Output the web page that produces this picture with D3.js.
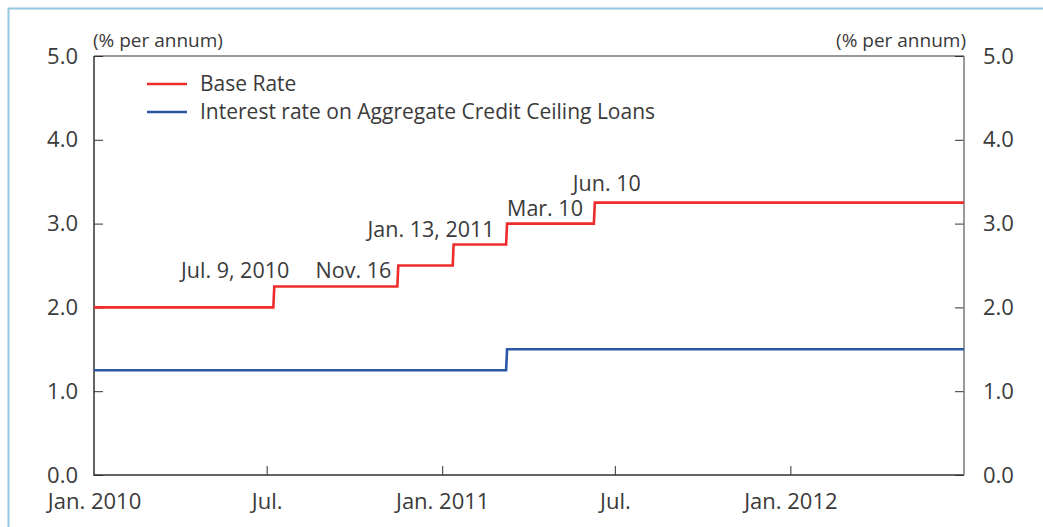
<!DOCTYPE html>
<html>
<head>
<meta charset="utf-8">
<script src="https://cdn.jsdelivr.net/npm/d3@7"></script>
<style>
  body { margin: 0; background: #fff; }
  svg { display: block; font-family: "Open Sans", "Noto Sans", sans-serif; }
  text { fill: #3a3a3a; }
</style>
</head>
<body>
<svg width="1043" height="527"></svg>
<script>
// dados: datas de mudança e taxas (% a.a.)
const startDate = "2010-01-01";
const endDate = "2012-07-01";
const baseRateDates = ["2010-01-01", "2010-07-09", "2010-11-16", "2011-01-13", "2011-03-10", "2011-06-10"];
const baseRateValues = [2.0, 2.25, 2.5, 2.75, 3.0, 3.25];
const creditDates = ["2010-01-01", "2011-03-10"];
const creditValues = [1.25, 1.5];
const annotationLabels = ["Jul. 9, 2010", "Nov. 16", "Jan. 13, 2011", "Mar. 10", "Jun. 10"];
const yTicks = [0, 1, 2, 3, 4, 5];
const xTickDates = ["2010-01-01", "2010-07-01", "2011-01-01", "2011-07-01", "2012-01-01"];
const xTickLabels = ["Jan. 2010", "Jul.", "Jan. 2011", "Jul.", "Jan. 2012"];
const seriesNames = ["Base Rate", "Interest rate on Aggregate Credit Ceiling Loans"];
const seriesColors = ["#ee2c2c", "#2b56a3"];

const parse = d3.timeParse("%Y-%m-%d");
const svg = d3.select("svg");
const PLOT_LEFT = 94, PLOT_RIGHT = 964, PLOT_TOP = 56, PLOT_BOTTOM = 475;

const x = d3.scaleTime().domain([parse(startDate), parse(endDate)]).range([PLOT_LEFT, PLOT_RIGHT]);
const y = d3.scaleLinear().domain([0, 5]).range([PLOT_BOTTOM, PLOT_TOP]);

// moldura azul clara
svg.append("rect")
  .attr("x", 8.5).attr("y", 8.5)
  .attr("width", 1100).attr("height", 600)
  .attr("fill", "none")
  .attr("stroke", "#94c8dd")
  .attr("stroke-width", 2);

// monta pontos diários: a subida leva um dia, como no original
function stepPoints(dates, values) {
  const pts = [];
  dates.forEach((d, i) => {
    const dt = parse(d);
    if (i > 0) pts.push([d3.timeDay.offset(dt, -1), values[i - 1]]);
    pts.push([dt, values[i]]);
  });
  pts.push([parse(endDate), values[values.length - 1]]);
  return pts;
}

const line = d3.line().x(d => x(d[0])).y(d => y(d[1]));

// eixos
const leftAxis = d3.axisLeft(y).tickValues(yTicks).tickSize(-9).tickPadding(16).tickFormat(d3.format(".1f"));
const rightAxis = d3.axisRight(y).tickValues(yTicks).tickSize(-9).tickPadding(19).tickFormat(d3.format(".1f"));
const bottomAxis = d3.axisBottom(x).tickValues(xTickDates.map(parse)).tickSize(-9).tickPadding(18)
  .tickFormat((d, i) => xTickLabels[i]);

function styleAxis(g) {
  g.select(".domain").remove();
  g.selectAll("line").attr("stroke", "#333");
  g.selectAll("text").attr("font-size", 22).attr("fill", "#3a3a3a")
    .attr("font-family", "'Open Sans', 'Noto Sans', sans-serif");
}

svg.append("g").attr("transform", `translate(${PLOT_LEFT},0)`).call(leftAxis).call(styleAxis);
svg.append("g").attr("transform", `translate(${PLOT_RIGHT},0)`).call(rightAxis).call(styleAxis);
svg.append("g").attr("transform", `translate(0,${PLOT_BOTTOM})`).call(bottomAxis).call(styleAxis)
  .selectAll("line").filter((d, i) => i === 0).remove();

// caixa da área do gráfico
svg.append("path")
  .attr("d", `M${PLOT_LEFT},${PLOT_TOP}V${PLOT_BOTTOM}H${PLOT_RIGHT}`)
  .attr("fill", "none").attr("stroke", "#333").attr("stroke-width", 1.5);
svg.append("path")
  .attr("d", `M${PLOT_LEFT},${PLOT_TOP}H${PLOT_RIGHT}`)
  .attr("fill", "none").attr("stroke", "#333").attr("stroke-width", 1.2);
svg.append("path")
  .attr("d", `M${PLOT_RIGHT},${PLOT_TOP}V${PLOT_BOTTOM}`)
  .attr("fill", "none").attr("stroke", "#777").attr("stroke-width", 1.5);

// unidades
svg.append("text").attr("x", 93).attr("y", 47).attr("font-size", 19).text("(% per annum)");
svg.append("text").attr("x", 966).attr("y", 47).attr("font-size", 19).attr("text-anchor", "end").text("(% per annum)");

// séries
svg.append("path")
  .datum(stepPoints(creditDates, creditValues))
  .attr("d", line).attr("fill", "none")
  .attr("stroke", seriesColors[1]).attr("stroke-width", 2.6);
svg.append("path")
  .datum(stepPoints(baseRateDates, baseRateValues))
  .attr("d", line).attr("fill", "none")
  .attr("stroke", seriesColors[0]).attr("stroke-width", 2.6);

// legenda
const legend = svg.append("g").attr("transform", "translate(147,84)");
seriesNames.forEach((name, i) => {
  legend.append("line")
    .attr("x1", 0).attr("x2", 40).attr("y1", i * 28).attr("y2", i * 28)
    .attr("stroke", seriesColors[i]).attr("stroke-width", 2.6);
  legend.append("text")
    .attr("x", 53).attr("y", i * 28 + 7)
    .attr("font-size", 21).text(name);
});

// rótulos das mudanças da taxa básica
const annOffsets = [
  { dx: 15, dy: -8, anchor: "end" },
  { dx: -7, dy: 12, anchor: "end" },
  { dx: 41, dy: -8, anchor: "end" },
  { dx: 0, dy: -8, anchor: "start" },
  { dx: 12, dy: -12, anchor: "middle" }
];
annotationLabels.forEach((label, i) => {
  const o = annOffsets[i];
  svg.append("text")
    .attr("x", x(parse(baseRateDates[i + 1])) + o.dx)
    .attr("y", y(baseRateValues[i + 1]) + o.dy)
    .attr("text-anchor", o.anchor)
    .attr("font-size", 21.5)
    .text(label);
});
</script>
</body>
</html>
